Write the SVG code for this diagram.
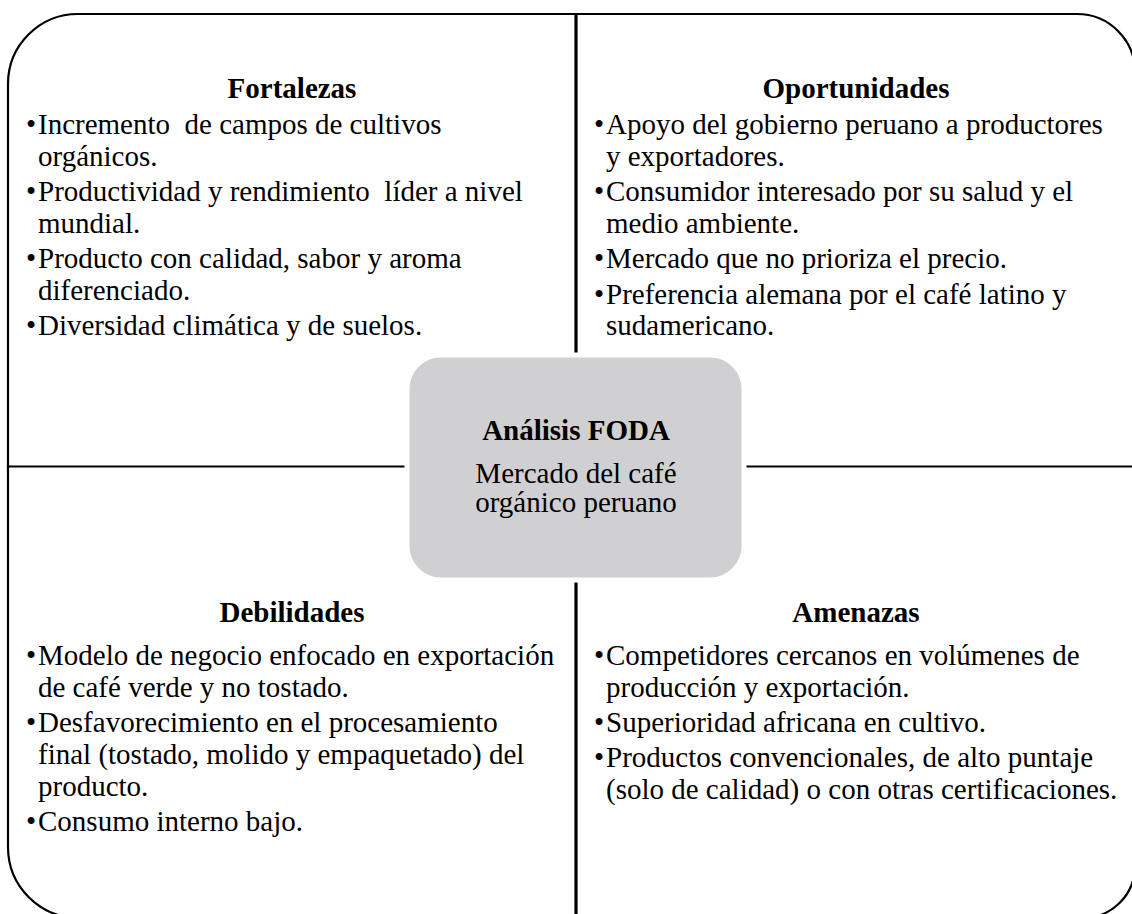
<svg xmlns="http://www.w3.org/2000/svg" width="1132" height="914" viewBox="0 0 1132 914">
<style>
.q{fill:#ffffff;stroke:#000000;stroke-width:2.2}
.h{font-family:"Liberation Serif","Times New Roman",serif;font-size:29px;font-weight:bold;fill:#000;text-anchor:middle}
.t{font-family:"Liberation Serif","Times New Roman",serif;font-size:29px;fill:#000;white-space:pre}
.c{font-family:"Liberation Serif","Times New Roman",serif;font-size:29px;fill:#000;text-anchor:middle}
.cb{font-weight:bold}
</style>
<rect width="1132" height="914" fill="#ffffff"/>
<g id="fortalezas">
<path class="q" d="M575.5 467.5 L8 467.5 L8 84 A70 70 0 0 1 78 14 L575.5 14 Z"/>
<text class="h" x="292" y="98">Fortalezas</text>
<text class="t" x="26" y="134">•</text><text class="t" x="38" y="134">Incremento  de campos de cultivos</text>
<text class="t" x="38" y="165.5">orgánicos.</text>
<text class="t" x="26" y="201">•</text><text class="t" x="38" y="201">Productividad y rendimiento  líder a nivel</text>
<text class="t" x="38" y="232.5">mundial.</text>
<text class="t" x="26" y="268">•</text><text class="t" x="38" y="268">Producto con calidad, sabor y aroma</text>
<text class="t" x="38" y="299.5">diferenciado.</text>
<text class="t" x="26" y="335">•</text><text class="t" x="38" y="335">Diversidad climática y de suelos.</text>
</g>
<g id="oportunidades">
<path class="q" d="M576.5 467.5 L1135 467.5 L1135 72 A58 58 0 0 0 1077 14 L576.5 14 Z"/>
<text class="h" x="856" y="98">Oportunidades</text>
<text class="t" x="594" y="134">•</text><text class="t" x="606" y="134">Apoyo del gobierno peruano a productores</text>
<text class="t" x="606" y="165.5">y exportadores.</text>
<text class="t" x="594" y="201">•</text><text class="t" x="606" y="201">Consumidor interesado por su salud y el</text>
<text class="t" x="606" y="232.5">medio ambiente.</text>
<text class="t" x="594" y="268">•</text><text class="t" x="606" y="268">Mercado que no prioriza el precio.</text>
<text class="t" x="594" y="303.5">•</text><text class="t" x="606" y="303.5">Preferencia alemana por el café latino y</text>
<text class="t" x="606" y="335">sudamericano.</text>
</g>
<g id="debilidades">
<path class="q" d="M575.5 466.5 L8 466.5 L8 847 A71 71 0 0 0 79 918 L575.5 918 Z"/>
<text class="h" x="292" y="622">Debilidades</text>
<text class="t" x="26" y="665">•</text><text class="t" x="38" y="665">Modelo de negocio enfocado en exportación</text>
<text class="t" x="38" y="697">de café verde y no tostado.</text>
<text class="t" x="26" y="732">•</text><text class="t" x="38" y="732">Desfavorecimiento en el procesamiento</text>
<text class="t" x="38" y="764">final (tostado, molido y empaquetado) del</text>
<text class="t" x="38" y="796">producto.</text>
<text class="t" x="26" y="831">•</text><text class="t" x="38" y="831">Consumo interno bajo.</text>
</g>
<g id="amenazas">
<path class="q" d="M576.5 466.5 L1135 466.5 L1135 866 A52 52 0 0 1 1083 918 L576.5 918 Z"/>
<text class="h" x="856" y="622">Amenazas</text>
<text class="t" x="594" y="665">•</text><text class="t" x="606" y="665">Competidores cercanos en volúmenes de</text>
<text class="t" x="606" y="697">producción y exportación.</text>
<text class="t" x="594" y="732">•</text><text class="t" x="606" y="732">Superioridad africana en cultivo.</text>
<text class="t" x="594" y="767">•</text><text class="t" x="606" y="767">Productos convencionales, de alto puntaje</text>
<text class="t" x="606" y="799">(solo de calidad) o con otras certificaciones.</text>
</g>
<g id="connectors"></g>
<g id="centro">
<rect x="407" y="355" width="337" height="225" rx="34" ry="34" fill="#d0cfd1" stroke="#ffffff" stroke-width="5"/>
<text class="c cb" x="576" y="440">Análisis FODA</text>
<text class="c" x="576" y="483">Mercado del café</text>
<text class="c" x="576" y="512">orgánico peruano</text>
</g>
</svg>
